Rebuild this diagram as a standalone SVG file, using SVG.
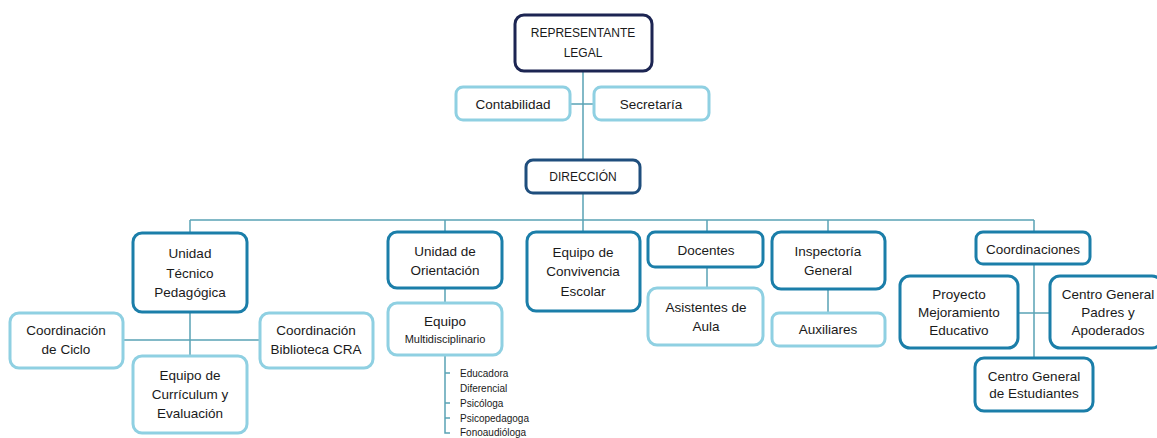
<svg xmlns="http://www.w3.org/2000/svg" width="1157" height="438" viewBox="0 0 1157 438">
<style>
.b{fill:#fff;stroke-width:3}
.top{stroke:#1c2552}
.dir{stroke:#1f4e7d}
.l2{stroke:#1b7ea9}
.l3{stroke:#8fd0e2}
.t{font-family:"Liberation Sans",Arial,sans-serif;font-size:13.5px;fill:#1a1a1a;text-anchor:middle}
.cap{font-size:12px}
.s{font-family:"Liberation Sans",Arial,sans-serif;font-size:10px;fill:#1a1a1a}
.c{stroke:#5aa3b5;stroke-width:1.5;fill:none}
</style>
<rect width="1157" height="438" fill="#fff"/>
<g id="connectors" class="c">
<path d="M583 71V160M583 193V232M570 104H594M190 220H1034M190 220V233M445 220V232M707 220V232M828 220V232M1034 220V232"/>
<path d="M190 312V356M123 340H260"/>
<path d="M445 288V303M445 355V433H450M445 373H450M445 403H450M445 418H450"/>
<path d="M707 267V288M828 289V313M1034 264V358M1018 313H1050"/>
</g>
<g id="representante"><rect class="b top" x="515" y="15" width="137" height="56" rx="9"/><text class="t cap" x="583" y="37">REPRESENTANTE</text><text class="t cap" x="583" y="57">LEGAL</text></g>
<g id="contabilidad"><rect class="b l3" x="456" y="87" width="114" height="33" rx="7"/><text class="t" x="513" y="109">Contabilidad</text></g>
<g id="secretaria"><rect class="b l3" x="594" y="87" width="115" height="33" rx="7"/><text class="t" x="651" y="109">Secretaría</text></g>
<g id="direccion"><rect class="b dir" x="526" y="160" width="114" height="33" rx="7"/><text class="t cap" x="583" y="181">DIRECCIÓN</text></g>
<g id="utp"><rect class="b l2" x="133" y="233" width="114" height="79" rx="9"/><text class="t" x="190" y="258">Unidad</text><text class="t" x="190" y="278">Técnico</text><text class="t" x="190" y="297">Pedagógica</text></g>
<g id="coord-ciclo"><rect class="b l3" x="10" y="313" width="113" height="55" rx="9"/><text class="t" x="66" y="335">Coordinación</text><text class="t" x="66" y="354">de Ciclo</text></g>
<g id="coord-cra"><rect class="b l3" x="260" y="313" width="113" height="55" rx="9"/><text class="t" x="316" y="335">Coordinación</text><text class="t" x="316" y="354">Biblioteca CRA</text></g>
<g id="curriculum"><rect class="b l3" x="133" y="356" width="114" height="77" rx="9"/><text class="t" x="190" y="380">Equipo de</text><text class="t" x="190" y="399">Currículum y</text><text class="t" x="190" y="418">Evaluación</text></g>
<g id="orientacion"><rect class="b l2" x="388" y="232" width="114" height="56" rx="9"/><text class="t" x="445" y="256">Unidad de</text><text class="t" x="445" y="275">Orientación</text></g>
<g id="multidisciplinario"><rect class="b l3" x="388" y="303" width="114" height="52" rx="9"/><text class="t" x="445" y="326">Equipo</text><text class="t" x="445" y="343" style="font-size:11px">Multidisciplinario</text></g>
<g id="lista"><text class="s" x="460" y="377">Educadora</text><text class="s" x="460" y="392">Diferencial</text><text class="s" x="460" y="407">Psicóloga</text><text class="s" x="460" y="422">Psicopedagoga</text><text class="s" x="460" y="436">Fonoaudióloga</text></g>
<g id="convivencia"><rect class="b l2" x="527" y="232" width="113" height="79" rx="9"/><text class="t" x="583" y="257">Equipo de</text><text class="t" x="583" y="276">Convivencia</text><text class="t" x="583" y="296">Escolar</text></g>
<g id="docentes"><rect class="b l2" x="648" y="232" width="115" height="35" rx="7"/><text class="t" x="706" y="255">Docentes</text></g>
<g id="asistentes"><rect class="b l3" x="648" y="288" width="115" height="57" rx="9"/><text class="t" x="706" y="312">Asistentes de</text><text class="t" x="706" y="331">Aula</text></g>
<g id="inspectoria"><rect class="b l2" x="772" y="232" width="113" height="57" rx="9"/><text class="t" x="828" y="256">Inspectoría</text><text class="t" x="828" y="275">General</text></g>
<g id="auxiliares"><rect class="b l3" x="772" y="313" width="113" height="33" rx="7"/><text class="t" x="828" y="334">Auxiliares</text></g>
<g id="coordinaciones"><rect class="b l2" x="976" y="232" width="114" height="32" rx="7"/><text class="t" x="1033" y="254">Coordinaciones</text></g>
<g id="pme"><rect class="b l2" x="900" y="276" width="118" height="72" rx="10"/><text class="t" x="959" y="299">Proyecto</text><text class="t" x="959" y="317">Mejoramiento</text><text class="t" x="959" y="335">Educativo</text></g>
<g id="cgpa"><rect class="b l2" x="1050" y="276" width="112" height="72" rx="10"/><text class="t" x="1108" y="299">Centro General</text><text class="t" x="1108" y="317">Padres y</text><text class="t" x="1108" y="335">Apoderados</text></g>
<g id="cgae"><rect class="b l2" x="975" y="358" width="118" height="53" rx="9"/><text class="t" x="1034" y="381">Centro General</text><text class="t" x="1034" y="398">de Estudiantes</text></g>
</svg>
